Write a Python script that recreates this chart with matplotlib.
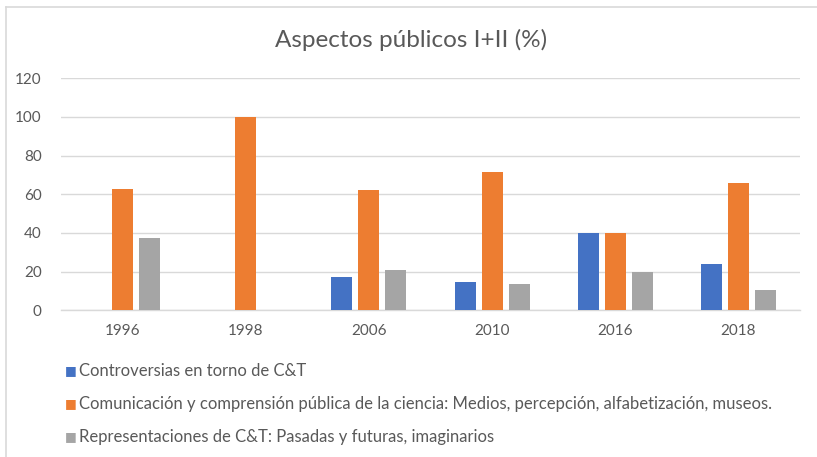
import matplotlib.pyplot as plt
from matplotlib.lines import Line2D
import numpy as np

plt.rcParams['font.family'] = ['Lato', 'DejaVu Sans']

# data
years = ['1996', '1998', '2006', '2010', '2016', '2018']
controversias = [0, 0, 17.2, 14.7, 40.0, 23.7]
comunicacion = [62.5, 100, 62.1, 71.4, 40.0, 65.8]
representaciones = [37.5, 0, 20.7, 13.6, 20.0, 10.5]

labels = ['Controversias en torno de C&T',
          'Comunicación y comprensión pública de la ciencia: Medios, percepción, alfabetización, museos.',
          'Representaciones de C&T: Pasadas y futuras, imaginarios']
colors = ['#4472C4', '#ED7D31', '#A5A5A5']
txt = '#595959'

fig = plt.figure(figsize=(8.17, 4.57), dpi=100)
ax = fig.add_axes([61/817, 1 - 310.3/457, 739/817, 232/457])

x = np.arange(len(years))
step = 0.219
w = 0.17
for i, (vals, c) in enumerate(zip([controversias, comunicacion, representaciones], colors)):
    ax.bar(x + (i - 1) * step, vals, width=w, color=c, zorder=3)

ax.set_xlim(-0.5, len(years) - 0.5)
ax.set_ylim(0, 120)
ax.set_yticks(range(0, 121, 20))
ax.set_xticks(x)
ax.set_xticklabels(years)
ax.tick_params(length=0, labelsize=11, labelcolor=txt)
ax.tick_params(axis='x', pad=10)
ax.tick_params(axis='y', pad=14)
ax.grid(axis='y', color='#D9D9D9', linewidth=1, zorder=0)
for s in ['top', 'right', 'left']:
    ax.spines[s].set_visible(False)
ax.spines['bottom'].set_color('#D9D9D9')
ax.spines['bottom'].set_linewidth(1)

fig.text(411/817, 1 - 40/457, 'Aspectos públicos I+II (%)', ha='center', va='center',
         fontsize=17.5, color=txt)

# legend rows
rows = [371, 404, 437]
for lab, c, yy in zip(labels, colors, rows):
    fig.text(71/817, 1 - yy/457, '\u25A0', ha='center', va='center', color=c,
             fontsize=9, family=['DejaVu Sans'])
    fig.text(79/817, 1 - yy/457, lab, ha='left', va='center', color=txt, fontsize=12)

# chart frame (top and left edges visible)
fig.add_artist(Line2D([6/817, 6/817], [0, 1 - 7/457], color='#D9D9D9', lw=1.2,
                      transform=fig.transFigure))
fig.add_artist(Line2D([6/817, 1], [1 - 7/457, 1 - 7/457], color='#D9D9D9', lw=1.2,
                      transform=fig.transFigure))

fig.savefig('out.png', dpi=100, facecolor='white')
